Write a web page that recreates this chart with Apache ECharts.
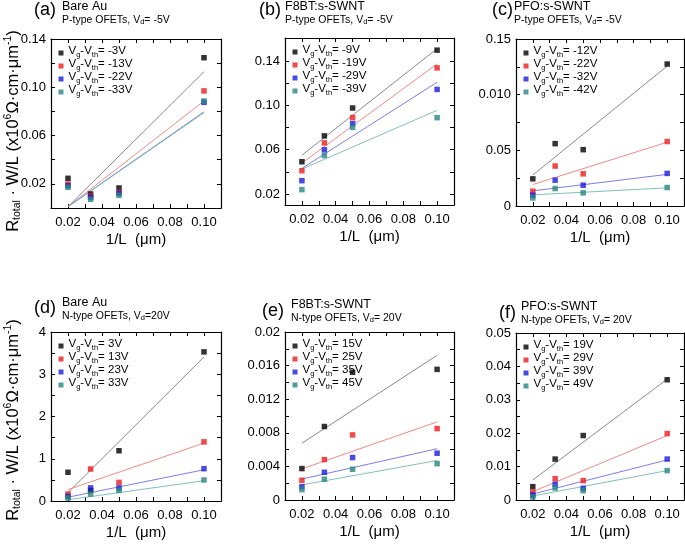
<!DOCTYPE html>
<html><head><meta charset="utf-8">
<script src="https://cdn.jsdelivr.net/npm/echarts@6/dist/echarts.min.js"></script>
<style>html,body{margin:0;padding:0;background:#fff}#c{width:685px;height:545px}</style>
</head><body><div id="c"></div>
<script>
// ---------- DATA ----------
const xValues = [0.02, 0.0333, 0.05, 0.10];      // 1/L for L = 50, 30, 20, 10 µm
const fitX = [0.02, 0.10];
const xTickValues = [0.02,0.03,0.04,0.05,0.06,0.07,0.08,0.09,0.10];
const xLabelValues = [0.02, 0.04, 0.06, 0.08, 0.10];

// (a) Bare Au, P-type
const aLegend = ['-3V','-13V','-22V','-33V'];
const aBlack = [0.0246, 0.0116, 0.0166, 0.1245];
const aRed   = [0.0199, 0.0099, 0.0130, 0.0970];
const aBlue  = [0.0185, 0.0089, 0.0122, 0.0875];
const aTeal  = [0.0171, 0.0072, 0.0105, 0.0886];
const aFitStart = [0.0011, 0.0011, 0.0011, 0.0011];
const aFitEnd   = [0.1129, 0.0886, 0.0797, 0.0790];
const aYLabels = [0.02, 0.06, 0.10, 0.14];
const aYText = ['0.02','0.06','0.10','0.14'];
const aYTicks = [0.02,0.04,0.06,0.08,0.10,0.12,0.14];

// (b) F8BT:s-SWNT, P-type
const bLegend = ['-9V','-19V','-29V','-39V'];
const bBlack = [0.0491, 0.0725, 0.0977, 0.1500];
const bRed   = [0.0410, 0.0662, 0.0890, 0.1340];
const bBlue  = [0.0320, 0.0599, 0.0836, 0.1145];
const bTeal  = [0.0239, 0.0548, 0.0803, 0.0890];
const bFitStart = [0.0550, 0.0479, 0.0431, 0.0425];
const bFitEnd   = [0.1514, 0.1376, 0.1210, 0.0956];
const bYLabels = [0.02, 0.06, 0.10, 0.14];
const bYText = ['0.02','0.06','0.10','0.14'];
const bYTicks = [0.02,0.04,0.06,0.08,0.10,0.12,0.14];

// (c) PFO:s-SWNT, P-type
const cLegend = ['-12V','-22V','-32V','-42V'];
const cBlack = [0.0244, 0.0560, 0.0506, 0.1275];
const cRed   = [0.0133, 0.0359, 0.0289, 0.0579];
const cBlue  = [0.0097, 0.0232, 0.0187, 0.0293];
const cTeal  = [0.0072, 0.0157, 0.0118, 0.0166];
const cFitStart = [0.0278, 0.0193, 0.0136, 0.0100];
const cFitEnd   = [0.1257, 0.0573, 0.0284, 0.0163];
const cYLabels = [0, 0.05, 0.10, 0.15];
const cYText = ['0','0.05','0.010','0.15'];
const cYTicks = [0.025,0.05,0.075,0.10,0.125];

// (d) Bare Au, N-type
const dLegend = ['3V','13V','23V','33V'];
const dBlack = [0.68, 0.25, 1.19, 3.53];
const dRed   = [0.165, 0.757, 0.44, 1.40];
const dBlue  = [0.11, 0.31, 0.31, 0.765];
const dTeal  = [0.07, 0.165, 0.25, 0.497];
const dFitStart = [0.20, 0.27, 0.09, 0.03];
const dFitEnd   = [3.41, 1.37, 0.74, 0.48];
const dYLabels = [0, 1, 2, 3, 4];
const dYText = ['0','1','2','3','4'];
const dYTicks = [0.5,1,1.5,2,2.5,3,3.5];

// (e) F8BT:s-SWNT, N-type
const eLegend = ['15V','25V','35V','45V'];
const eBlack = [0.00374, 0.00875, 0.0152, 0.01555];
const eRed   = [0.00235, 0.00481, 0.00775, 0.0085];
const eBlue  = [0.00159, 0.0033, 0.00505, 0.00557];
const eTeal  = [0.00123, 0.00247, 0.00366, 0.00433];
const eFitStart = [0.00676, 0.0037, 0.0025, 0.0018];
const eFitEnd   = [0.01722, 0.0093, 0.0061, 0.0047];
const eYLabels = [0, 0.004, 0.008, 0.012, 0.016, 0.02];
const eYText = ['0','0.004','0.008','0.012','0.016','0.02'];
const eYTicks = [0.002,0.004,0.006,0.008,0.010,0.012,0.014,0.016,0.018];

// (f) PFO:s-SWNT, N-type
const fLegend = ['19V','29V','39V','49V'];
const fBlack = [0.0040, 0.01225, 0.0193, 0.0360];
const fRed   = [0.0024, 0.0064, 0.0058, 0.0199];
const fBlue  = [0.0015, 0.0047, 0.0035, 0.01225];
const fTeal  = [0.0009, 0.0036, 0.0028, 0.0088];
const fFitStart = [0.0060, 0.0025, 0.0018, 0.0012];
const fFitEnd   = [0.0362, 0.0193, 0.0120, 0.0088];
const fYLabels = [0, 0.01, 0.02, 0.03, 0.04, 0.05];
const fYText = ['0','0.01','0.02','0.03','0.04','0.05'];
const fYTicks = [0.005,0.01,0.015,0.02,0.025,0.03,0.035,0.04,0.045];

// ---------- STYLE / LAYOUT ----------
const FONT = 'Arial, "Liberation Sans", Helvetica, sans-serif';
const markColors = ['#000000', '#ee1c1c', '#1c1cdc', '#25877e'];
const lineColors = ['#7a7a7a', '#f07b7b', '#6e6ee8', '#72b9b1'];

const panels = [
  {key:'a', legend:aLegend, series:[aBlack,aRed,aBlue,aTeal], fs:aFitStart, fe:aFitEnd, yMin:0, yMax:0.14, yl:aYLabels, yt:aYText, yk:aYTicks,
   grid:{left:51, top:39, width:170, height:169}},
  {key:'b', legend:bLegend, series:[bBlack,bRed,bBlue,bTeal], fs:bFitStart, fe:bFitEnd, yMin:0.01, yMax:0.161, yl:bYLabels, yt:bYText, yk:bYTicks,
   grid:{left:285, top:38, width:169, height:167}},
  {key:'c', legend:cLegend, series:[cBlack,cRed,cBlue,cTeal], fs:cFitStart, fe:cFitEnd, yMin:0, yMax:0.15, yl:cYLabels, yt:cYText, yk:cYTicks,
   grid:{left:516, top:39, width:168, height:167}},
  {key:'d', legend:dLegend, series:[dBlack,dRed,dBlue,dTeal], fs:dFitStart, fe:dFitEnd, yMin:0, yMax:4, yl:dYLabels, yt:dYText, yk:dYTicks,
   grid:{left:51, top:332, width:170, height:169}},
  {key:'e', legend:eLegend, series:[eBlack,eRed,eBlue,eTeal], fs:eFitStart, fe:eFitEnd, yMin:0, yMax:0.02, yl:eYLabels, yt:eYText, yk:eYTicks,
   grid:{left:285, top:332, width:169, height:168}},
  {key:'f', legend:fLegend, series:[fBlack,fRed,fBlue,fTeal], fs:fFitStart, fe:fFitEnd, yMin:0, yMax:0.05, yl:fYLabels, yt:fYText, yk:fYTicks,
   grid:{left:516, top:333, width:168, height:167}}
];

const grids = [], xAxes = [], yAxes = [], series = [], legends = [];
const axisLineStyle = {color:'#000', width:1.2};
panels.forEach((p, i) => {
  grids.push(Object.assign({containLabel:false}, p.grid));
  const xBase = {type:'value', gridIndex:i, min:0.01, max:0.11,
    axisLine:{show:true, onZero:false, lineStyle:axisLineStyle},
    axisTick:{show:true, inside:true, length:4, customValues:xTickValues, lineStyle:{color:'#000', width:1}},
    splitLine:{show:false}};
  xAxes.push(Object.assign({}, xBase, {position:'bottom',
    axisLabel:{show:true, customValues:xLabelValues, margin:8, fontSize:13, fontFamily:FONT, color:'#000', formatter:v=>v.toFixed(2)},
    name:'1/L  (\u03bcm)', nameLocation:'middle', nameGap:24, nameTextStyle:{fontSize:15, fontFamily:FONT, color:'#000'}}));
  xAxes.push(Object.assign({}, xBase, {position:'top', axisLabel:{show:false}}));
  const yBase = {type:'value', gridIndex:i, min:p.yMin, max:p.yMax,
    axisLine:{show:true, onZero:false, lineStyle:axisLineStyle},
    axisTick:{show:true, inside:true, length:4, customValues:p.yk, lineStyle:{color:'#000', width:1}},
    splitLine:{show:false}};
  yAxes.push(Object.assign({}, yBase, {position:'left',
    axisLabel:{show:true, customValues:p.yl, margin:5, fontSize:13, fontFamily:FONT, color:'#000',
      formatter:v=>{ let k=0, d=1e9; p.yl.forEach((t,j)=>{ if(Math.abs(t-v)<d){d=Math.abs(t-v);k=j;} }); return p.yt[k]; }}}));
  yAxes.push(Object.assign({}, yBase, {position:'right', axisLabel:{show:false}}));
  const names = [];
  p.series.forEach((vals, k) => {
    const nm = p.key + ':' + p.legend[k];
    names.push(nm);
    series.push({type:'line', xAxisIndex:i*2, yAxisIndex:i*2, silent:true, symbol:'none', z:1,
      lineStyle:{color:lineColors[k], width:0.9}, data:fitX.map((x,j)=>[x, j===0 ? p.fs[k] : p.fe[k]])});
    series.push({type:'scatter', name:nm, xAxisIndex:i*2, yAxisIndex:i*2, symbol:'rect', symbolSize:5.5, z:3,
      itemStyle:{color:markColors[k]}, data:xValues.map((x,j)=>[x, vals[j]])});
  });
  legends.push({data:names, orient:'vertical', left:p.grid.left+7.5, top:p.grid.top+6, itemGap:-3,
    icon:'rect', itemWidth:5, itemHeight:5, selectedMode:false, padding:0,
    formatter: n => { const v = n.split(':')[1]; return '{m|V}{s|g}{m|-V}{s|th}{m|= ' + v + '}'; },
    textStyle:{fontFamily:FONT, color:'#000', rich:{
      m:{fontSize:11.5, fontFamily:FONT, color:'#000', lineHeight:8, padding:[0,0,4,0]},
      s:{fontSize:7.5, fontFamily:FONT, color:'#000', lineHeight:8, padding:[4,0,0,0]}}}});
});

// titles
const titleDefs = [
  {lab:'(a)', lx:34, ly:10, t1:'Bare Au', x:62, y1:7, sub:'{m|P-type OFETs, V}{s|d}{m|= -5V}', y2:20},
  {lab:'(b)', lx:259, ly:10, t1:'F8BT:s-SWNT', x:285, y1:7, sub:'{m|P-type OFETs, V}{s|d}{m|= -5V}', y2:20},
  {lab:'(c)', lx:492, ly:10, t1:'PFO:s-SWNT', x:514, y1:7, sub:'{m|P-type OFETs, V}{s|d}{m|= -5V}', y2:20},
  {lab:'(d)', lx:34, ly:308, t1:'Bare Au', x:62, y1:303, sub:'{m|N-type OFETs, V}{s|d}{m|=20V}', y2:316},
  {lab:'(e)', lx:262, ly:311, t1:'F8BT:s-SWNT', x:291, y1:305, sub:'{m|N-type OFETs, V}{s|d}{m|= 20V}', y2:318},
  {lab:'(f)', lx:499, ly:313, t1:'PFO:s-SWNT', x:521, y1:307, sub:'{m|N-type OFETs, V}{s|d}{m|= 20V}', y2:320}
];
const graphics = [];
titleDefs.forEach(t => {
  graphics.push({type:'text', x:t.lx, y:t.ly, style:{text:t.lab, font:'18px '+FONT, fill:'#000', textVerticalAlign:'middle'}});
  graphics.push({type:'text', x:t.x, y:t.y1, style:{text:t.t1, font:'12.5px '+FONT, fill:'#000', textVerticalAlign:'middle'}});
  graphics.push({type:'text', x:t.x, y:t.y2, style:{text:t.sub, textVerticalAlign:'middle',
    rich:{m:{fontSize:10.5, fontFamily:FONT, fill:'#000', lineHeight:12}, s:{fontSize:7.5, fontFamily:FONT, fill:'#000', verticalAlign:'bottom'}}}});
});
const yTitle = '{m|R}{s|total}{m| \u00b7 W/L (x10}{p|6}{m|\u03a9\u00b7cm\u00b7\u03bcm}{p|-1}{m|)}';
[[13,131],[13,420]].forEach(([x,y]) => {
  graphics.push({type:'text', x:x, y:y, rotation:Math.PI/2, style:{text:yTitle, align:'center', verticalAlign:'middle',
    rich:{m:{fontSize:16.5, fontFamily:FONT, fill:'#000', lineHeight:20},
          s:{fontSize:10.5, fontFamily:FONT, fill:'#000', verticalAlign:'bottom'},
          p:{fontSize:10.5, fontFamily:FONT, fill:'#000', verticalAlign:'top'}}}});
});

const chart = echarts.init(document.getElementById('c'), null, {renderer:'canvas'});
chart.setOption({
  animation:false, backgroundColor:'#fff',
  grid:grids, xAxis:xAxes, yAxis:yAxes, series:series, legend:legends, graphic:graphics
});
</script></body></html>
